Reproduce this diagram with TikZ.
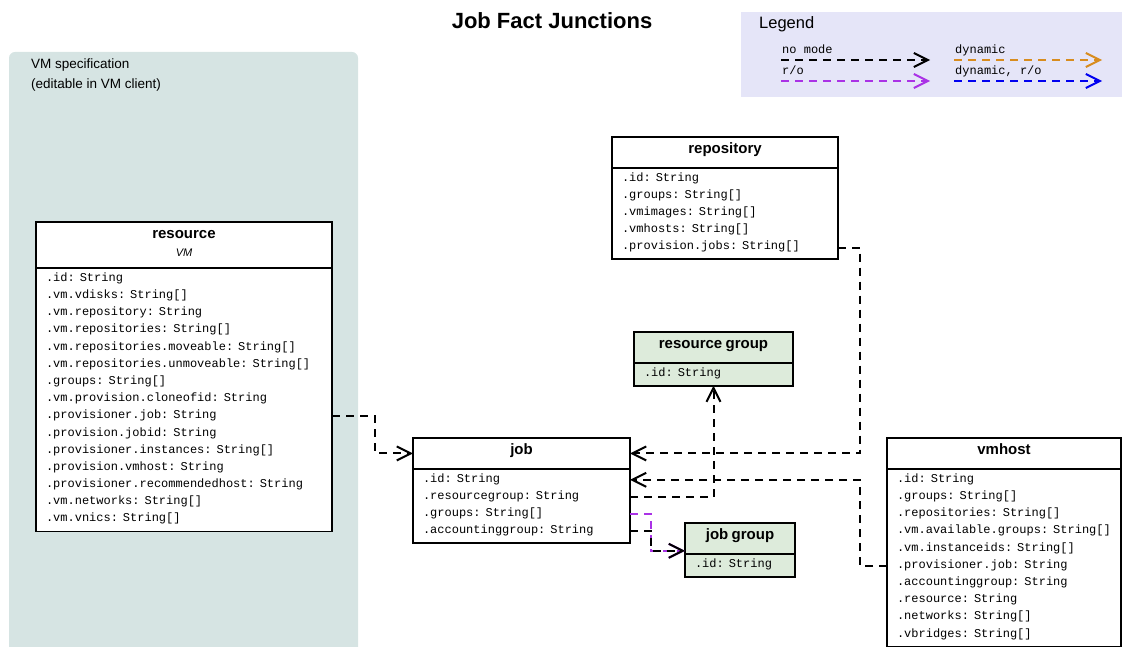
\documentclass[tikz,border=0pt]{standalone}
\usepackage{fontspec}
\setmainfont{Liberation Sans}
\setmonofont{Liberation Mono}
\usetikzlibrary{calc}
\usetikzlibrary{arrows.meta}
\usetikzlibrary{shapes.multipart}

\definecolor{panelgray}{RGB}{214,228,227}
\definecolor{groupgreen}{RGB}{221,235,219}
\definecolor{legendblue}{RGB}{229,229,248}
\definecolor{modeorange}{RGB}{216,140,30}
\definecolor{ropurple}{RGB}{170,50,230}
\definecolor{rwblue}{RGB}{0,0,240}

\newcommand{\clsname}[1]{\normalfont\fontsize{15}{18}\selectfont\centering\rule[-13pt]{0pt}{29pt}\textbf{#1}\par}
\newcommand{\rowtop}{\ttfamily\fontsize{12}{17.2}\selectfont\rule{0pt}{12.5pt}}
\newcommand{\rowend}{\rule[-8.5pt]{0pt}{8.5pt}\par}
\newcommand{\rowy}[1]{11+17.2*#1}

\begin{document}
\begin{tikzpicture}[x=1pt,y=-1pt,
    cls/.style={rectangle split, rectangle split parts=2, draw, line width=1.8pt, fill=white,
      inner xsep=10pt, inner ysep=0pt, outer sep=0pt, anchor=north west, align=left},
    grp/.style={cls, fill=groupgreen},
    factlink/.style={line width=2pt, dash pattern=on 8pt off 6pt,
      -{Straight Barb[length=14pt,width=14pt]}},
    lgtext/.style={anchor=base west, inner sep=0pt, font=\ttfamily\fontsize{12}{14}\selectfont}
    ]
\useasboundingbox (0,0) rectangle (1122,647);
\clip (0,0) rectangle (1122,647);

\fill[panelgray, rounded corners=6pt] (9,52) rectangle (358,690);
\node[anchor=north west, inner sep=0pt, align=left, font=\fontsize{13.5}{20}\selectfont] (spec) at (31,59)
  {VM specification\\(editable in VM client)};

\node[font=\fontsize{22}{26}\selectfont\bfseries] (title) at (552,21) {Job Fact Junctions};

\fill[legendblue] (741,12) rectangle (1130,97);
\node[anchor=base west, inner sep=0pt, font=\fontsize{16.5}{20}\selectfont] (legend) at (759,29) {Legend};
\node[lgtext] (lg-nomode) at (782,54) {no mode};
\node[lgtext] (lg-ro) at (782,75) {r/o};
\node[lgtext] (lg-dyn) at (955,54) {dynamic};
\node[lgtext] (lg-dynro) at (955,75) {dynamic, r/o};
\coordinate (lg-a1) at (781,60); \coordinate (lg-b1) at (930,60);
\coordinate (lg-a2) at (781,81); \coordinate (lg-b2) at (930,81);
\coordinate (lg-a3) at (954,60); \coordinate (lg-b3) at (1102,60);
\coordinate (lg-a4) at (954,81); \coordinate (lg-b4) at (1102,81);
\draw[factlink] (lg-a1) -- (lg-b1);
\draw[factlink, ropurple] (lg-a2) -- (lg-b2);
\draw[factlink, modeorange] (lg-a3) -- (lg-b3);
\draw[factlink, rwblue] (lg-a4) -- (lg-b4);

\node[cls, text width=276pt] (resource) at (36,222)
  {\normalfont\fontsize{15}{18}\selectfont\centering\rule{0pt}{16pt}\textbf{resource}\\
   \fontsize{11}{18}\selectfont\rule[-10pt]{0pt}{10pt}\textit{VM}\par
   \nodepart{two}\rowtop .id: String\\
   .vm.vdisks: String[]\\
   .vm.repository: String\\
   .vm.repositories: String[]\\
   .vm.repositories.moveable: String[]\\
   .vm.repositories.unmoveable: String[]\\
   .groups: String[]\\
   .vm.provision.cloneofid: String\\
   .provisioner.job: String\\
   .provision.jobid: String\\
   .provisioner.instances: String[]\\
   .provision.vmhost: String\\
   .provisioner.recommendedhost: String\\
   .vm.networks: String[]\\
   .vm.vnics: String[]\rowend};

\node[cls, text width=197pt] (job) at (413,438)
  {\clsname{job}
   \nodepart{two}\rowtop .id: String\\
   .resourcegroup: String\\
   .groups: String[]\\
   .accountinggroup: String\rowend};

\node[cls, text width=206pt] (repository) at (612,137)
  {\clsname{repository}
   \nodepart{two}\rowtop .id: String\\
   .groups: String[]\\
   .vmimages: String[]\\
   .vmhosts: String[]\\
   .provision.jobs: String[]\rowend};

\node[grp, text width=139pt] (resgroup) at (634,332)
  {\clsname{resource group}
   \nodepart{two}\rowtop .id: String\rowend};

\node[grp, text width=90pt] (jobgroup) at (685,523)
  {\clsname{job group}
   \nodepart{two}\rowtop .id: String\rowend};

\node[cls, text width=214pt] (vmhost) at (887,438)
  {\clsname{vmhost}
   \nodepart{two}\rowtop .id: String\\
   .groups: String[]\\
   .repositories: String[]\\
   .vm.available.groups: String[]\\
   .vm.instanceids: String[]\\
   .provisioner.job: String\\
   .accountinggroup: String\\
   .resource: String\\
   .networks: String[]\\
   .vbridges: String[]\rowend};

\coordinate (res-pj) at ($(resource.text split east)+(0,{\rowy{8}})$);
\coordinate (repo-pj) at ($(repository.text split east)+(0,{\rowy{4}})$);
\coordinate (vm-pj) at ($(vmhost.text split west)+(0,{\rowy{5}})$);
\coordinate (job-id) at ($(job.text split east)+(0,{\rowy{0}})$);
\coordinate (job-rg) at ($(job.text split east)+(0,{\rowy{1}})$);
\coordinate (job-gr) at ($(job.text split east)+(0,{\rowy{2}})$);
\coordinate (job-ag) at ($(job.text split east)+(0,{\rowy{3}})$);
\coordinate (job-hw) at ($(job.north west)!0.5!(job.text split west)$);
\coordinate (job-he) at ($(job.north east)!0.5!(job.text split east)$);
\coordinate (jgrp-in) at ($(jobgroup.text split west)+(0,-3)$);

\draw[factlink] (res-pj) -- ++(43,0) |- (job-hw);
\draw[factlink] (repo-pj) -- ++(22,0) |- (job-he);
\draw[factlink] (vm-pj) -- ++(-27,0) |- (job-id);
\draw[factlink] (job-rg) -| (resgroup.south);
\draw[factlink, ropurple] (job-gr) -- ++(21,0) |- (jgrp-in);
\draw[factlink] (job-ag) -- ++(21,0) |- (jgrp-in);
\end{tikzpicture}
\end{document}
